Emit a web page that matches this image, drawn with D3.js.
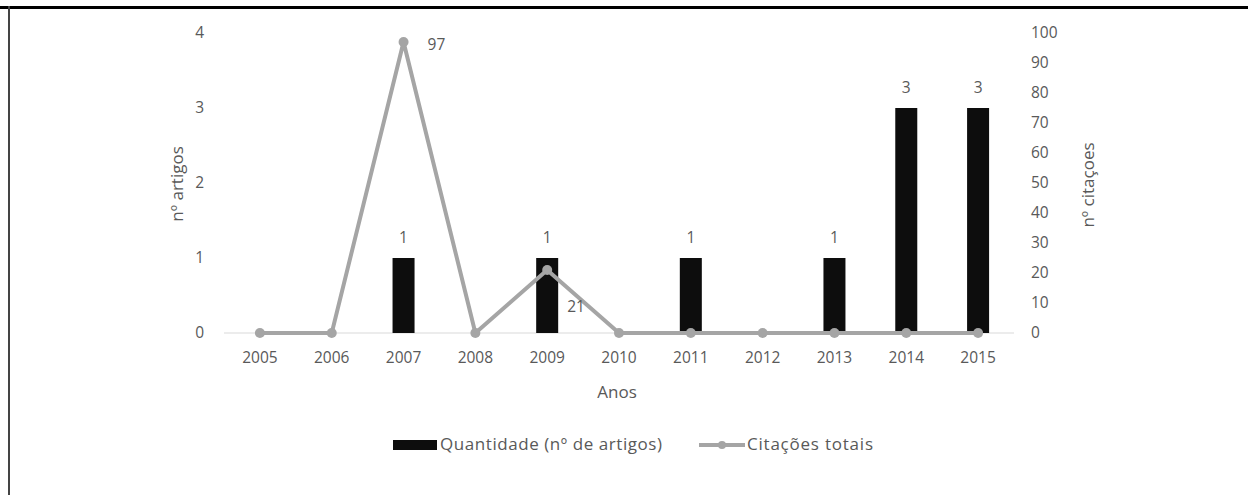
<!DOCTYPE html>
<html>
<head>
<meta charset="utf-8">
<script src="https://cdn.jsdelivr.net/npm/d3@7"></script>
<style>
  body { margin: 0; background: #fff; }
  text { font-family: "Open Sans", sans-serif; fill: #595959; }
</style>
</head>
<body>
<svg id="chart" width="1248" height="495"></svg>
<script>
const years = ["2005", "2006", "2007", "2008", "2009", "2010", "2011", "2012", "2013", "2014", "2015"]
const artigos = [0, 0, 1, 0, 1, 0, 1, 0, 1, 3, 3]
const citacoes = [0, 0, 97, 0, 21, 0, 0, 0, 0, 0, 0]
const leftTicks = [0, 1, 2, 3, 4]
const rightTicks = [0, 10, 20, 30, 40, 50, 60, 70, 80, 90, 100]

const svg = d3.select("#chart")
const margin = { top: 33, left: 224, right: 234, bottom: 162 }
const width = 1248 - margin.left - margin.right
const height = 495 - margin.top - margin.bottom
const fs = 15.5

// frame lines
svg.append("rect").attr("x", 0).attr("y", 6).attr("width", 1248).attr("height", 3).attr("fill", "#000")
svg.append("rect").attr("x", 8).attr("y", 6).attr("width", 2).attr("height", 489).attr("fill", "#444")

const g = svg.append("g").attr("transform", `translate(${margin.left},${margin.top})`)

const x = d3.scaleBand().domain(years).range([0, width]).paddingInner(0).paddingOuter(0)
const yL = d3.scaleLinear().domain([0, 4]).range([height, 0])
const yR = d3.scaleLinear().domain([0, 100]).range([height, 0])

// zero line
g.append("line").attr("x1", 0).attr("x2", width).attr("y1", yL(0)).attr("y2", yL(0))
  .attr("stroke", "#d9d9d9").attr("stroke-width", 1)

// axes
const axL = g.append("g").attr("transform", "translate(-20,0)")
  .call(d3.axisLeft(yL).tickValues(leftTicks).tickFormat(d3.format("d")).tickSize(0).tickPadding(0))
axL.select(".domain").remove()
axL.selectAll("text").attr("font-size", fs).attr("dy", "0.32em")

const axR = g.append("g").attr("transform", `translate(${width + 17},0)`)
  .call(d3.axisRight(yR).tickValues(rightTicks).tickSize(0).tickPadding(0))
axR.select(".domain").remove()
axR.selectAll("text").attr("font-size", fs).attr("dy", "0.32em")

const axX = g.append("g").attr("transform", `translate(0,${height + 25})`)
  .call(d3.axisBottom(x).tickSize(0).tickPadding(0))
axX.select(".domain").remove()
axX.selectAll("text").attr("font-size", fs).attr("dy", "0.32em")

// axis titles
svg.append("text").attr("transform", "translate(183,184) rotate(-90)")
  .attr("text-anchor", "middle").attr("font-size", 17).text("nº artigos")
svg.append("text").attr("transform", "translate(1094,185) rotate(-90)")
  .attr("text-anchor", "middle").attr("font-size", 17).text("nº citaçoes")
svg.append("text").attr("x", 617).attr("y", 398)
  .attr("text-anchor", "middle").attr("font-size", 17).text("Anos")

// bars
const barW = 22
const barData = years.map((y, i) => ({ y, v: artigos[i] })).filter(d => d.v > 0)
g.selectAll(".bar").data(barData)
  .enter().append("rect")
  .attr("x", d => x(d.y) + x.bandwidth() / 2 - barW / 2)
  .attr("y", d => yL(d.v))
  .attr("width", barW)
  .attr("height", d => yL(0) - yL(d.v))
  .attr("fill", "#0d0d0d")

g.selectAll(".barLabel").data(barData)
  .enter().append("text")
  .attr("x", d => x(d.y) + x.bandwidth() / 2)
  .attr("y", d => yL(d.v) - 20)
  .attr("dy", "0.32em")
  .attr("text-anchor", "middle").attr("font-size", fs)
  .text(d => d.v)

// line
const pts = years.map((y, i) => ({ y, v: citacoes[i] }))
const line = d3.line().x(d => x(d.y) + x.bandwidth() / 2).y(d => yR(d.v))
g.append("path").datum(pts).attr("d", line)
  .attr("fill", "none").attr("stroke", "#a5a5a5").attr("stroke-width", 4)
  .attr("stroke-linejoin", "round")
g.selectAll(".pt").data(pts).enter().append("circle")
  .attr("cx", d => x(d.y) + x.bandwidth() / 2).attr("cy", d => yR(d.v))
  .attr("r", 5).attr("fill", "#a5a5a5")

// line labels (only non-zero)
const lineLabelOffset = { "2007": [24, 3], "2009": [20, 37] }
g.selectAll(".ptLabel").data(pts.filter(d => d.v > 0)).enter().append("text")
  .attr("x", d => x(d.y) + x.bandwidth() / 2 + lineLabelOffset[d.y][0])
  .attr("y", d => yR(d.v) + lineLabelOffset[d.y][1])
  .attr("dy", "0.32em").attr("font-size", fs)
  .text(d => d.v)

// legend
const lg = svg.append("g").attr("transform", "translate(393,445)")
lg.append("rect").attr("x", 0).attr("y", -5).attr("width", 44).attr("height", 10).attr("fill", "#0d0d0d")
lg.append("text").attr("x", 47).attr("y", 0).attr("dy", "0.32em").attr("font-size", 17)
  .attr("textLength", 222).attr("lengthAdjust", "spacing")
  .text("Quantidade (nº de artigos)")
lg.append("line").attr("x1", 306).attr("x2", 352).attr("y1", 0).attr("y2", 0)
  .attr("stroke", "#a5a5a5").attr("stroke-width", 4)
lg.append("circle").attr("cx", 329).attr("cy", 0).attr("r", 4).attr("fill", "#a5a5a5")
lg.append("text").attr("x", 354).attr("y", 0).attr("dy", "0.32em").attr("font-size", 17)
  .attr("textLength", 126).attr("lengthAdjust", "spacing")
  .text("Citações totais")
</script>
</body>
</html>
